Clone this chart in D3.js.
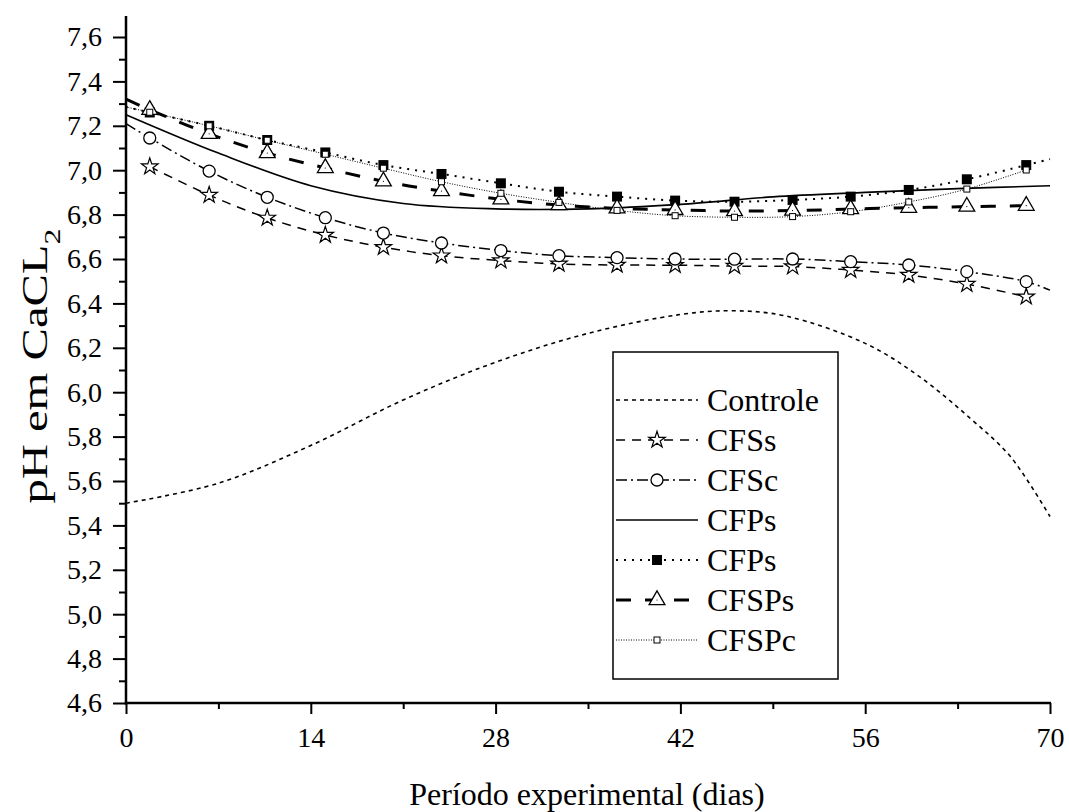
<!DOCTYPE html>
<html>
<head>
<meta charset="utf-8">
<script src="https://cdn.jsdelivr.net/npm/d3@7"></script>
<style>
  body { margin: 0; background: #fff; }
  svg { display: block; }
  svg text { font-family: "Liberation Serif", "Tinos", "DejaVu Serif", "Noto Serif", serif; fill: #000; }
</style>
</head>
<body>
<svg id="chart" width="1069" height="812"></svg>
<script>
// days where the markers sit
const days = [1.8, 6.3, 10.7, 15.1, 19.5, 23.9, 28.4, 32.8, 37.2, 41.6, 46.1, 50.5, 54.9, 59.3, 63.7, 68.2];

// marker values (pH)
const cfss  = [7.016, 6.888, 6.785, 6.708, 6.653, 6.615, 6.593, 6.578, 6.573, 6.572, 6.568, 6.566, 6.550, 6.528, 6.487, 6.430];
const cfsc  = [7.145, 6.996, 6.878, 6.786, 6.717, 6.672, 6.638, 6.615, 6.606, 6.600, 6.599, 6.600, 6.588, 6.573, 6.543, 6.498];
const cfpsM = [7.260, 7.200, 7.136, 7.080, 7.023, 6.983, 6.941, 6.903, 6.881, 6.863, 6.858, 6.866, 6.881, 6.911, 6.959, 7.023];
const cfsps = [7.272, 7.164, 7.077, 7.010, 6.950, 6.906, 6.869, 6.843, 6.828, 6.821, 6.816, 6.818, 6.825, 6.831, 6.836, 6.840];
const cfspc = [7.261, 7.200, 7.135, 7.072, 7.009, 6.948, 6.896, 6.855, 6.819, 6.795, 6.788, 6.791, 6.813, 6.857, 6.915, 7.001];

// fitted curves
const ctrlDays = [0, 7, 14, 21, 28, 35, 42, 46, 50, 56, 60, 64, 67, 70];
const controle = [5.50, 5.59, 5.76, 5.965, 6.135, 6.265, 6.35, 6.367, 6.343, 6.22, 6.075, 5.88, 5.71, 5.44];
const fitDays  = [0, 7, 14, 21, 28, 35, 42, 49, 56, 63, 70];
const cfpsFit  = [7.25, 7.077, 6.93, 6.85, 6.826, 6.826, 6.846, 6.88, 6.90, 6.917, 6.93];

// line ends outside the marker range
const cfscStart = 7.21, cfscEnd = 6.46;
const cfpsStart = 7.285, cfpsEnd = 7.05;
const cfspsStart = 7.32;
const cfspcStart = 7.285;

const xTicks = [0, 14, 28, 42, 56, 70];
const xMinor = [7, 21, 35, 49, 63];
const yTicks = [4.6, 4.8, 5.0, 5.2, 5.4, 5.6, 5.8, 6.0, 6.2, 6.4, 6.6, 6.8, 7.0, 7.2, 7.4, 7.6];
const yMinor = [4.7, 4.9, 5.1, 5.3, 5.5, 5.7, 5.9, 6.1, 6.3, 6.5, 6.7, 6.9, 7.1, 7.3, 7.5];

const legendNames = ["Controle", "CFSs", "CFSc", "CFPs", "CFPs", "CFSPs", "CFSPc"];

const SERIF = "'Liberation Serif', Tinos, 'DejaVu Serif', 'Noto Serif', serif";

var svg = d3.select("#chart");
var x = d3.scaleLinear().domain([0, 70]).range([126, 1050]);
var y = d3.scaleLinear().domain([4.6, 7.6]).range([703, 37]);

const pair = (xs, ys) => xs.map((d, i) => [d, ys[i]]);
var line = d3.line().x(d => x(d[0])).y(d => y(d[1])).curve(d3.curveCatmullRom.alpha(0.5));

// styles per series
const st = {
	controle: {dash: "4,4", w: 1.6},
	cfss:  {dash: "9,7", w: 1.5},
	cfsc:  {dash: "11,4,2,4", w: 1.5},
	cfpsL: {dash: null, w: 1.6},
	cfps:  {dash: "2,6", w: 2},
	cfsps: {dash: "15,14", w: 3},
	cfspc: {dash: "1,1.5", w: 1}
};

var plot = svg.append("g").attr("class", "plot");

function drawLine(data, s){
	plot.append("path").datum(data)
		.attr("d", line)
		.attr("fill", "none")
		.attr("stroke", "#000")
		.attr("stroke-width", s.w)
		.attr("stroke-dasharray", s.dash);
}

drawLine(pair(ctrlDays, controle), st.controle);
drawLine(pair(days, cfss), st.cfss);
drawLine([[0, cfscStart]].concat(pair(days, cfsc), [[70, cfscEnd]]), st.cfsc);
drawLine(pair(fitDays, cfpsFit), st.cfpsL);
drawLine([[0, cfpsStart]].concat(pair(days, cfpsM), [[70, cfpsEnd]]), st.cfps);
drawLine([[0, cfspsStart]].concat(pair(days, cfsps)), st.cfsps);
drawLine([[0, cfspcStart]].concat(pair(days, cfspc)), st.cfspc);

// markers
const mk = {
	star:  g => g.append("path").attr("d", d3.symbol(d3.symbolStar, 85)).attr("fill", "#fff").attr("stroke", "#000").attr("stroke-width", 1.2),
	circle: g => g.append("circle").attr("r", 6).attr("fill", "#fff").attr("stroke", "#000").attr("stroke-width", 1.3),
	square: g => g.append("rect").attr("x", -5).attr("y", -5).attr("width", 10).attr("height", 10).attr("fill", "#000"),
	tri: g => {
		g.append("path").attr("d", d3.symbol(d3.symbolTriangle, 108)).attr("fill", "#fff").attr("stroke", "#000").attr("stroke-width", 1.3);
		g.append("circle").attr("r", 0.6).attr("fill", "#000");
	},
	small: g => g.append("rect").attr("x", -3).attr("y", -3).attr("width", 6).attr("height", 6).attr("fill", "#fff").attr("stroke", "#000").attr("stroke-width", 1)
};

function drawMarkers(vals, fn){
	plot.append("g").selectAll("g").data(pair(days, vals)).join("g")
		.attr("transform", d => "translate(" + x(d[0]) + "," + y(d[1]) + ")")
		.each(function(){ fn(d3.select(this)); });
}
drawMarkers(cfss, mk.star);
drawMarkers(cfsc, mk.circle);
drawMarkers(cfpsM, mk.square);
drawMarkers(cfsps, mk.tri);
drawMarkers(cfspc, mk.small);

// axes
var fmt = d => d.toFixed(1).replace(".", ",");
svg.append("g").attr("transform", "translate(126,0)")
	.call(d3.axisLeft(y).tickValues(yTicks).tickSize(13).tickPadding(11).tickFormat(fmt));
svg.append("g").attr("transform", "translate(126,0)")
	.call(d3.axisLeft(y).tickValues(yMinor).tickSize(7).tickFormat(""));
svg.append("g").attr("transform", "translate(0,703)")
	.call(d3.axisBottom(x).tickValues(xTicks).tickSize(11).tickPadding(13));
svg.append("g").attr("transform", "translate(0,703)")
	.call(d3.axisBottom(x).tickValues(xMinor).tickSize(6).tickFormat(""));

svg.selectAll(".domain").remove();
svg.selectAll(".tick line").attr("stroke", "#000").attr("stroke-width", 2);
svg.selectAll(".tick text").attr("font-family", SERIF).style("font-size", "28px");

svg.append("line").attr("x1", 126).attr("x2", 126).attr("y1", 16).attr("y2", 704.5)
	.attr("stroke", "#000").attr("stroke-width", 2.5);
svg.append("line").attr("x1", 124.75).attr("x2", 1051).attr("y1", 703).attr("y2", 703)
	.attr("stroke", "#000").attr("stroke-width", 2.5);

// titles
svg.append("text").attr("x", 587).attr("y", 805).attr("text-anchor", "middle")
	.attr("font-family", SERIF).style("font-size", "32px").text("Período experimental (dias)");
// the y title is stretched along its length in the original
var yt = svg.append("text").attr("transform", "translate(47,366) rotate(-90)")
	.attr("text-anchor", "middle").attr("font-family", SERIF).style("font-size", "35px")
	.attr("textLength", 275).attr("lengthAdjust", "spacingAndGlyphs");
yt.append("tspan").text("pH em CaCL");
yt.append("tspan").attr("baseline-shift", "sub").style("font-size", "23px").text("2");

// legend
var lg = svg.append("g").attr("class", "legend");
lg.append("rect").attr("x", 613).attr("y", 352).attr("width", 225).attr("height", 327)
	.attr("fill", "#fff").attr("stroke", "#000").attr("stroke-width", 1.5);
const legendStyles = [st.controle, st.cfss, st.cfsc, st.cfpsL, st.cfps, st.cfsps, st.cfspc];
const legendMarks = [null, mk.star, mk.circle, null, mk.square, mk.tri, mk.small];
legendNames.forEach(function(name, i){
	var ry = 400 + 40 * i;
	lg.append("line").attr("x1", 616).attr("x2", 698).attr("y1", ry).attr("y2", ry)
		.attr("stroke", "#000").attr("stroke-width", legendStyles[i].w)
		.attr("stroke-dasharray", legendStyles[i].dash);
	if (legendMarks[i]) legendMarks[i](lg.append("g").attr("transform", "translate(657," + ry + ")"));
	lg.append("text").attr("x", 707).attr("y", ry).attr("dy", "0.35em")
		.attr("font-family", SERIF).style("font-size", "32px").text(name);
});
</script>
</body>
</html>
